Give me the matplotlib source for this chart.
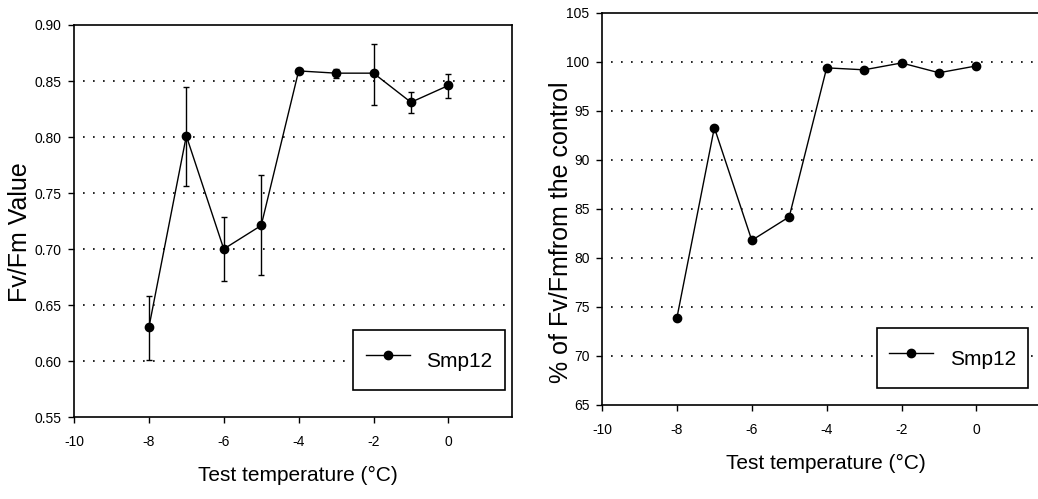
import matplotlib.pyplot as plt
from matplotlib.lines import Line2D
import numpy as np

plt.rcParams['font.family'] = ['Liberation Sans', 'DejaVu Sans']
plt.rcParams['axes.unicode_minus'] = False

temp = [-8, -7, -6, -5, -4, -3, -2, -1, 0]
fvfm = [0.630, 0.801, 0.700, 0.721, 0.859, 0.857, 0.857, 0.831, 0.846]
err_up = [0.028, 0.044, 0.029, 0.045, 0.002, 0.004, 0.026, 0.009, 0.010]
err_dn = [0.029, 0.045, 0.029, 0.044, 0.002, 0.004, 0.028, 0.010, 0.011]
pct_control = [73.9, 93.3, 81.8, 84.2, 99.4, 99.2, 99.9, 98.9, 99.6]

xticks = [-10, -8, -6, -4, -2, 0]


def style_axes(ax, yticks, yfmt):
    ax.set_xlim(-10, 1.7)
    ax.set_xticks(xticks)
    ax.set_yticks(yticks)
    ax.set_yticklabels([yfmt % v for v in yticks])
    ax.tick_params(direction='out', length=4, width=1, labelsize=10)
    ax.tick_params(axis='x', pad=9)
    ax.tick_params(axis='y', pad=5)
    for s in ax.spines.values():
        s.set_linewidth(1.2)
    for v in yticks[1:-1]:
        ax.axhline(v, xmin=0.02, xmax=1.0, color='black', lw=1.2,
                   ls=(0, (1, 5)), zorder=0)
    ax.set_xlabel("Test temperature (°C)", fontsize=15)
    ax.xaxis.set_label_coords(0.512, -0.125)


def add_legend(ax, anchor):
    h = Line2D([], [], color='black', lw=1, marker='o', ms=6,
               mfc='black', mec='black')
    leg = ax.legend([h], ['Smp12'], loc='lower right', bbox_to_anchor=anchor,
                    fontsize=15, frameon=True, fancybox=False,
                    edgecolor='black', framealpha=1, borderaxespad=0,
                    handlelength=2.1, handleheight=2.2, borderpad=0.6,
                    handletextpad=0.8)
    leg.get_frame().set_linewidth(1.2)


fig = plt.figure(figsize=(10.38, 4.99), dpi=100)

# left panel: Fv/Fm with error bars
ax1 = fig.add_axes([0.0713, 0.1643, 0.422, 0.7856])
ax1.errorbar(temp, fvfm, yerr=[err_dn, err_up], color='black', lw=1,
             marker='o', ms=6, mfc='black', mec='black', ecolor='black',
             elinewidth=1, capsize=2.5)
ax1.set_ylim(0.55, 0.90)
style_axes(ax1, list(np.arange(0.55, 0.901, 0.05)), '%.2f')
ax1.set_ylabel("Fv/Fm Value", fontsize=18)
ax1.yaxis.set_label_coords(-0.096, 0.472)
add_legend(ax1, (0.984, 0.069))

# right panel: percent of control
ax2 = fig.add_axes([0.58, 0.1884, 0.422, 0.7856])
ax2.plot(temp, pct_control, color='black', lw=1, marker='o', ms=6,
         mfc='black', mec='black')
ax2.set_ylim(65, 105)
style_axes(ax2, list(range(65, 106, 5)), '%d')
ax2.set_ylabel("% of Fv/Fmfrom the control", fontsize=18)
ax2.yaxis.set_label_coords(-0.066, 0.441)
add_legend(ax2, (0.973, 0.043))

fig.savefig('out.png', dpi=100)
